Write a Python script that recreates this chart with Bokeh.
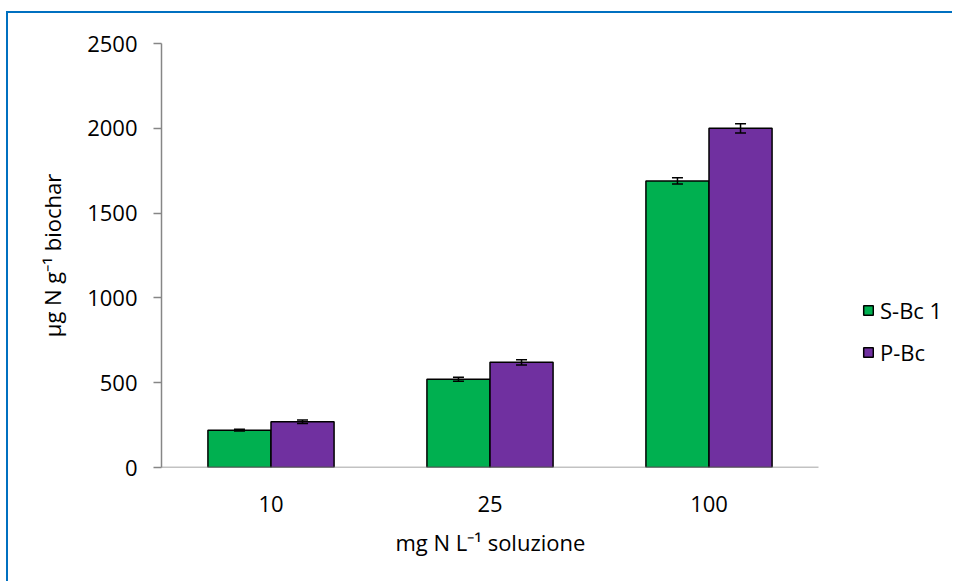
from bokeh.plotting import figure
from bokeh.models import (ColumnDataSource, Whisker, Legend, LegendItem,
                          FixedTicker, Title)
from bokeh.embed import file_html
from bokeh.resources import INLINE

# Data: N adsorbed by biochar at three solution concentrations
categories = ["10", "25", "100"]
sbc1 = [220, 520, 1690]
sbc1_err = [5, 12, 18]
pbc = [270, 620, 2000]
pbc_err = [10, 15, 27]

FONT = "Open Sans"
FS = "22px"
GREEN = "#00B050"
PURPLE = "#7030A0"
AXIS = "#868686"
BLUE = "#0070C0"

# geometry: the frame runs to the right edge so the legend can sit beside the bars
WIDTH, HEIGHT = 946, 570
BORDER_L, BORDER_T, BORDER_B = 153, 30, 116
CAT_PX = 219  # pixels per category
n = len(categories)
x_end = (WIDTH - BORDER_L) / CAT_PX

bar_w = 0.288
centers = [i + 0.5 for i in range(n)]

src_s = ColumnDataSource(dict(
    x=[c - bar_w / 2 for c in centers], top=sbc1,
    upper=[v + e for v, e in zip(sbc1, sbc1_err)],
    lower=[v - e for v, e in zip(sbc1, sbc1_err)]))
src_p = ColumnDataSource(dict(
    x=[c + bar_w / 2 for c in centers], top=pbc,
    upper=[v + e for v, e in zip(pbc, pbc_err)],
    lower=[v - e for v, e in zip(pbc, pbc_err)]))

p = figure(width=WIDTH, height=HEIGHT, output_backend="svg", toolbar_location=None,
           x_range=(0, x_end), y_range=(0, 2500),
           min_border_left=BORDER_L, min_border_right=0,
           min_border_top=BORDER_T, min_border_bottom=BORDER_B)
# blue chart-area border on the top and left
p.styles = {"margin-left": "6px", "margin-top": "11px",
            "border-top": f"2px solid {BLUE}", "border-left": f"2px solid {BLUE}"}
p.outline_line_color = None
p.xgrid.visible = False
p.ygrid.visible = False
p.background_fill_color = "white"
p.border_fill_color = "white"

r_s = p.vbar(x="x", top="top", width=bar_w, source=src_s,
             fill_color=GREEN, line_color="black", line_width=1.5)
r_p = p.vbar(x="x", top="top", width=bar_w, source=src_p,
             fill_color=PURPLE, line_color="black", line_width=1.5)

# category axis line, only under the categories
p.segment(x0=[0], x1=[n], y0=[0], y1=[0], line_color=AXIS, line_width=1.5)

for src in (src_s, src_p):
    w = Whisker(source=src, base="x", upper="upper", lower="lower",
                line_color="black", line_width=1.5, level="overlay")
    w.upper_head.size = 11
    w.lower_head.size = 11
    w.upper_head.line_width = 1.5
    w.lower_head.line_width = 1.5
    p.add_layout(w)

# x axis: category labels, no ticks, no line
xa = p.xaxis[0]
xa.ticker = FixedTicker(ticks=centers)
xa.major_label_overrides = {c: lab for c, lab in zip(centers, categories)}
xa.major_tick_out = 0
xa.major_tick_in = 0
xa.minor_tick_out = 0
xa.minor_tick_in = 0
xa.axis_line_color = None
xa.major_label_text_font = FONT
xa.major_label_text_font_size = FS
xa.major_label_text_color = "black"
xa.major_label_standoff = 28

# x-axis title, centred under the categories
p.add_layout(Title(text="mg N L\u207b\u00b9 soluzione", align="left", offset=234,
                   text_font=FONT, text_font_size=FS, text_font_style="normal",
                   text_color="black", standoff=21), "below")

# y axis
ya = p.yaxis[0]
ya.ticker = FixedTicker(ticks=[0, 500, 1000, 1500, 2000, 2500])
ya.major_tick_out = 8
ya.major_tick_in = 0
ya.minor_tick_out = 0
ya.minor_tick_in = 0
ya.major_tick_line_color = AXIS
ya.major_tick_line_width = 1.5
ya.axis_line_color = AXIS
ya.axis_line_width = 1.5
ya.major_label_text_font = FONT
ya.major_label_text_font_size = FS
ya.major_label_text_color = "black"
ya.major_label_standoff = 16
ya.axis_label = "\u00b5g N g\u207b\u00b9 biochar"
ya.axis_label_text_font = FONT
ya.axis_label_text_font_size = FS
ya.axis_label_text_font_style = "normal"
ya.axis_label_text_color = "black"
ya.axis_label_standoff = 17

legend = Legend(items=[LegendItem(label="S-Bc 1", renderers=[r_s]),
                       LegendItem(label="P-Bc", renderers=[r_p])],
                location=(701, 100), padding=0, margin=0,
                border_line_color=None, background_fill_alpha=0,
                glyph_width=12, glyph_height=12, label_standoff=6,
                label_height=20, spacing=12,
                label_text_font=FONT, label_text_font_size=FS,
                label_text_color="black")
p.add_layout(legend)

open("out.html", "w").write(file_html(p, INLINE))
